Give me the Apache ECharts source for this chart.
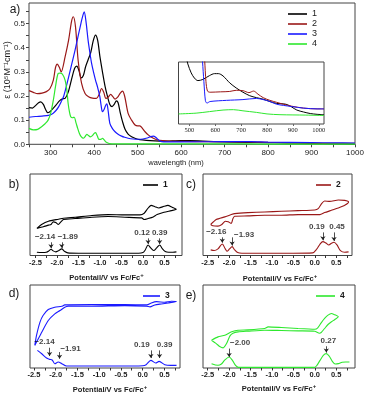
<!DOCTYPE html>
<html><head><meta charset="utf-8">
<script src="https://cdn.jsdelivr.net/npm/echarts@6/dist/echarts.min.js"></script>
<style>html,body{margin:0;padding:0;background:#fff}#c{width:366px;height:396px}</style>
</head><body><div id="c"></div>
<script>
// ---------- DATA ----------
// a) absorption spectra [wavelength nm, epsilon 10^5 M^-1 cm^-1]
const abs1 = [[250,0.152],[258,0.150],[265,0.160],[272,0.172],[277,0.176],[283,0.165],[288,0.145],[293,0.131],[298,0.135],[305,0.148],[312,0.162],[320,0.180],[327,0.188],[333,0.190],[340,0.215],[348,0.270],[355,0.315],[360,0.324],[365,0.305],[370,0.275],[375,0.285],[380,0.320],[386,0.350],[392,0.380],[398,0.430],[403,0.452],[408,0.430],[413,0.365],[419,0.300],[425,0.240],[431,0.195],[436,0.165],[441,0.156],[446,0.165],[451,0.180],[455,0.172],[460,0.130],[465,0.095],[471,0.062],[478,0.042],[486,0.031],[495,0.024],[505,0.019],[520,0.016],[540,0.014],[560,0.013],[580,0.014],[600,0.015],[620,0.015],[650,0.013],[700,0.010],[750,0.008],[800,0.007],[850,0.006],[870,0.006],[900,0.004],[950,0.003],[1000,0.002]];
const abs2 = [[250,0.222],[260,0.215],[270,0.210],[280,0.212],[290,0.218],[298,0.230],[306,0.266],[311,0.318],[315,0.332],[320,0.318],[324,0.300],[333,0.362],[341,0.430],[348,0.510],[352,0.528],[357,0.486],[363,0.348],[371,0.252],[379,0.210],[387,0.197],[396,0.191],[405,0.190],[411,0.205],[417,0.231],[422,0.215],[427,0.190],[432,0.195],[438,0.207],[443,0.197],[448,0.187],[454,0.195],[460,0.212],[465,0.220],[470,0.200],[478,0.128],[486,0.100],[494,0.080],[500,0.076],[505,0.076],[511,0.066],[517,0.052],[525,0.038],[536,0.025],[550,0.016],[575,0.013],[600,0.012],[650,0.011],[700,0.011],[750,0.010],[800,0.008],[850,0.007],[900,0.005],[950,0.004],[1000,0.004]];
const abs3 = [[250,0.112],[265,0.115],[280,0.117],[295,0.120],[305,0.128],[312,0.140],[318,0.155],[325,0.180],[330,0.200],[340,0.270],[348,0.330],[356,0.390],[362,0.440],[367,0.480],[372,0.520],[377,0.548],[381,0.510],[386,0.430],[390,0.380],[394,0.335],[399,0.295],[403,0.266],[408,0.235],[413,0.197],[416,0.160],[419,0.135],[423,0.145],[426,0.160],[429,0.167],[432,0.140],[436,0.087],[442,0.065],[448,0.052],[455,0.042],[463,0.034],[470,0.029],[478,0.025],[490,0.022],[501,0.021],[512,0.022],[522,0.026],[530,0.032],[536,0.034],[542,0.028],[550,0.015],[560,0.010],[600,0.010],[700,0.011],[760,0.011],[800,0.009],[900,0.007],[950,0.006],[1000,0.005]];
const abs4 = [[250,0.066],[260,0.060],[270,0.062],[279,0.073],[287,0.085],[294,0.100],[300,0.130],[306,0.183],[311,0.240],[317,0.293],[322,0.295],[327,0.290],[333,0.266],[337,0.225],[340,0.170],[343,0.135],[346,0.114],[350,0.110],[354,0.112],[358,0.090],[362,0.066],[366,0.045],[370,0.032],[375,0.025],[379,0.032],[383,0.041],[387,0.036],[391,0.031],[396,0.036],[400,0.045],[403,0.048],[407,0.035],[411,0.020],[415,0.020],[419,0.025],[423,0.018],[428,0.008],[435,0.003],[450,0.002],[500,0.002],[600,0.002],[700,0.002],[800,0.001],[1000,0.001]];
// inset (long-wavelength region, expanded)
const ins1 = [[470,0.023],[487,0.0175],[494,0.0155],[507,0.0132],[520,0.0118],[533,0.0112],[552,0.0115],[578,0.0125],[597,0.0130],[612,0.0130],[630,0.0124],[656,0.0106],[681,0.0093],[707,0.0082],[733,0.0073],[759,0.0068],[785,0.0064],[811,0.0058],[837,0.0053],[863,0.0052],[878,0.0050],[895,0.0044],[915,0.0036],[941,0.0031],[967,0.0027],[993,0.0025],[1020,0.0024]];
const ins2 = [[553,0.022],[559,0.0165],[564,0.011],[570,0.0085],[580,0.0082],[620,0.0083],[656,0.0084],[681,0.0087],[707,0.0086],[730,0.0081],[748,0.0085],[765,0.0077],[785,0.0068],[811,0.0061],[837,0.0056],[863,0.0051],[895,0.0046],[941,0.0041],[993,0.0039],[1020,0.0039]];
const ins3 = [[546,0.022],[551,0.0160],[556,0.011],[562,0.0060],[568,0.0054],[580,0.0058],[643,0.0061],[707,0.0063],[759,0.0066],[785,0.0063],[811,0.0058],[837,0.0051],[863,0.0048],[895,0.0045],[941,0.0041],[993,0.0039],[1020,0.0039]];
const ins4 = [[458,0.0026],[526,0.0028],[578,0.0032],[630,0.0036],[670,0.0037],[707,0.0034],[759,0.0030],[800,0.0026],[850,0.0024],[950,0.0023],[1020,0.0022]];
const absTicks = [300,400,500,600,700,800,900,1000];
const epsTicks = [0,0.1,0.2,0.3,0.4,0.5];
const insTicks = [500,600,700,800,900,1000];
const potTicks = [-2.5,-2,-1.5,-1,-0.5,0,0.5];

// b-e) CV loops and DPV traces [potential V vs Fc/Fc+, current (arb.)]
const cv1 = [[-2.47,82],[-2.36,94],[-2.20,104],[-1.97,110],[-1.85,113],[-1.58,116],[-1.19,121],[-0.81,124],[-0.42,123],[-0.07,123],[0.03,128],[0.11,142],[0.19,152],[0.28,148],[0.37,144],[0.49,149],[0.58,152],[0.68,146],[0.78,140],[0.66,136],[0.49,131],[0.33,124],[0.24,117],[0.12,112],[0.03,109],[-0.03,114],[-0.42,116],[-0.81,118],[-1.19,116],[-1.58,112],[-1.85,109],[-1.91,102],[-1.97,94],[-2.03,100],[-2.09,102],[-2.14,94],[-2.20,92],[-2.32,87],[-2.47,82]];
const dpv1 = [[-2.47,10],[-2.35,9],[-2.25,10],[-2.19,14],[-2.14,19],[-2.09,14],[-2.03,11],[-1.97,14],[-1.89,20],[-1.83,13],[-1.75,8],[-1.5,7],[-1.0,7],[-0.5,7],[-0.1,7],[0.0,9],[0.05,16],[0.12,32],[0.18,23],[0.25,15],[0.32,23],[0.39,32],[0.45,21],[0.52,12],[0.6,10],[0.7,10],[0.78,11]];
const cv2 = [[-2.43,94],[-2.30,109],[-2.10,117],[-1.95,124],[-1.87,127],[-1.56,130],[-1.17,132],[-0.78,134],[-0.39,136],[0.0,138],[0.08,142],[0.16,157],[0.23,165],[0.35,164],[0.55,168],[0.70,167],[0.79,162],[0.70,152],[0.55,144],[0.39,137],[0.23,130],[0.12,124],[-0.39,124],[-0.78,122],[-1.17,122],[-1.56,120],[-1.87,119],[-1.91,112],[-1.95,97],[-2.02,102],[-2.09,104],[-2.17,94],[-2.26,89],[-2.38,90],[-2.43,94]];
const dpv2 = [[-2.43,17],[-2.35,15],[-2.26,20],[-2.16,35],[-2.09,20],[-2.05,13],[-1.99,20],[-1.93,27],[-1.87,17],[-1.80,9],[-1.7,7],[-1.0,7],[-0.5,7],[-0.05,8],[0.05,20],[0.12,34],[0.19,42],[0.26,38],[0.33,32],[0.39,37],[0.45,40],[0.52,32],[0.6,15],[0.7,10],[0.79,11]];
const cv3 = [[-2.48,68],[-2.44,98],[-2.36,138],[-2.29,158],[-2.17,176],[-2.02,183],[-1.86,186],[-1.79,190],[-1.17,191],[-0.41,191],[0.10,190],[0.20,196],[0.32,200],[0.51,198],[0.66,201],[0.78,200],[0.59,196],[0.43,193],[0.28,190],[0.17,184],[0.09,186],[-0.41,188],[-1.17,186],[-1.71,186],[-1.79,183],[-1.90,173],[-2.02,163],[-2.17,143],[-2.32,108],[-2.42,83],[-2.48,68]];
const dpv3 = [[-2.42,53],[-2.32,43],[-2.21,30],[-2.14,26],[-2.08,24],[-2.02,13],[-1.94,18],[-1.86,13],[-1.75,6],[-1.5,6],[-1.0,6],[-0.5,6],[0.0,7],[0.08,10],[0.19,23],[0.30,15],[0.38,20],[0.51,10],[0.65,8],[0.78,8]];
const cv4 = [[-2.41,83],[-2.26,93],[-2.10,98],[-1.94,108],[-1.79,113],[-1.56,114],[-1.17,118],[-1.09,123],[-0.78,121],[-0.39,118],[0.0,116],[0.07,120],[0.15,135],[0.23,148],[0.31,158],[0.39,163],[0.45,160],[0.55,153],[0.47,145],[0.39,138],[0.31,130],[0.23,118],[0.15,106],[0.11,104],[0.0,110],[-0.39,111],[-0.78,112],[-1.17,113],[-1.56,110],[-1.79,108],[-1.91,104],[-1.98,96],[-2.06,73],[-2.14,60],[-2.22,64],[-2.30,73],[-2.41,83]];
const dpv4 = [[-2.41,13],[-2.26,8],[-2.18,12],[-2.10,24],[-2.00,33],[-1.92,22],[-1.85,8],[-1.78,2],[-1.0,2],[-0.5,2],[0.0,2],[0.05,8],[0.12,22],[0.20,38],[0.27,43],[0.34,35],[0.41,20],[0.48,12],[0.55,13],[0.64,17],[0.72,18],[0.81,18]];
// peak potentials labelled in each panel
const peaks1 = [-2.14,-1.89,0.12,0.39];
const peaks2 = [-2.16,-1.93,0.19,0.45];
const peaks3 = [-2.14,-1.91,0.19,0.39];
const peaks4 = [-2.00,0.27];
const names = ['1','2','3','4'];
const colors = ['#000000','#9a1818','#1a1aff','#2ee82e'];

// ---------- LAYOUT / STYLE ----------
const SANS = 'Liberation Sans, Arial, sans-serif';
const SERIF = 'Liberation Serif, Times New Roman, serif';
const TXT = '#1a1a1a';
const grids = [
  {left:29, top:3, width:326, height:141.3},
  {left:178.5, top:62, width:145.5, height:62, backgroundColor:'#fff'},
  {left:30, top:174, width:152, height:81.5},
  {left:203, top:174, width:149, height:81.5},
  {left:30, top:285, width:150, height:83},
  {left:203, top:285, width:152, height:83}
].map(g => Object.assign({show:true, borderColor:'#444', borderWidth:1, outerBoundsMode:'none', containLabel:false}, g));

const potX = [[-2.63,0.91],[-2.61,0.87],[-2.59,0.86],[-2.61,0.94]];
const curY = [247,247,250,248];
// annotation arrows: [top, bottom] in current units; label offsets in px
const annLayout = [
  {tops:[40,40,52,52], bots:[22,23,35,35], dx:[-6,6,-6,0], dy:[0,0,0,0]},
  {tops:[55,55,70,70], bots:[39,30,46,44], dx:[-6,12,-6,3], dy:[0,3,0,0]},
  {tops:[61,48,53,53], bots:[36,28,30,30], dx:[-5,11,-9,5], dy:[0,2,0,0]},
  {tops:[58,65], bots:[33,46], dx:[11,2], dy:[0,0]}
];

const xAxes = [], yAxes = [];
xAxes.push({type:'value', gridIndex:0, min:250, max:1000,
  axisLine:{show:false}, splitLine:{show:false},
  axisTick:{show:true, inside:false, length:3, customValues:[250,300,350,400,450,500,550,600,650,700,750,800,850,900,950,1000], lineStyle:{color:'#444'}},
  axisLabel:{customValues:absTicks, formatter:v=>String(v), fontSize:8, color:TXT, fontFamily:SANS, margin:4}});
yAxes.push({type:'value', gridIndex:0, min:0, max:0.585,
  axisLine:{show:false}, splitLine:{show:false},
  axisTick:{show:true, length:3, customValues:[0,0.05,0.1,0.15,0.2,0.25,0.3,0.35,0.4,0.45,0.5,0.55], lineStyle:{color:'#444'}},
  axisLabel:{customValues:epsTicks, formatter:v=>v.toFixed(1), fontSize:8, color:TXT, fontFamily:SANS, margin:4}});
xAxes.push({type:'value', gridIndex:1, min:458, max:1020,
  axisLine:{show:false}, splitLine:{show:false},
  axisTick:{show:true, length:2, customValues:insTicks, lineStyle:{color:'#666'}},
  axisLabel:{customValues:insTicks, formatter:v=>String(v), fontSize:6.5, color:TXT, fontFamily:SERIF, margin:3}});
yAxes.push({type:'value', gridIndex:1, min:0, max:0.016, axisLine:{show:false}, splitLine:{show:false}, axisTick:{show:false}, axisLabel:{show:false}});
for (let k=0;k<4;k++){
  xAxes.push({type:'value', gridIndex:k+2, min:potX[k][0], max:potX[k][1],
    axisLine:{show:false}, splitLine:{show:false},
    axisTick:{show:true, length:2.5, customValues:[-2.5,-2.25,-2,-1.75,-1.5,-1.25,-1,-0.75,-0.5,-0.25,0,0.25,0.5,0.75], lineStyle:{color:'#333'}},
    axisLabel:{customValues:potTicks, formatter:v=>v.toFixed(1), fontSize:7.5, fontWeight:'bold', color:TXT, fontFamily:SANS, margin:3}});
  yAxes.push({type:'value', gridIndex:k+2, min:0, max:curY[k], axisLine:{show:false}, splitLine:{show:false}, axisTick:{show:false}, axisLabel:{show:false}});
}

function line(name, data, color, idx, width, smooth){
  return {type:'line', name, data, xAxisIndex:idx, yAxisIndex:idx, symbol:'none', smooth:smooth,
    lineStyle:{color, width}, itemStyle:{color}, animation:false, silent:true, z:3};
}
const fmt = p => (p<0?'\u2212':'') + Math.abs(p).toFixed(2);
function ann(peaks, lay, idx){
  return {type:'scatter', xAxisIndex:idx, yAxisIndex:idx, symbolSize:1, itemStyle:{color:'transparent'}, silent:true, animation:false, z:5,
    data: peaks.map((p,i)=>({value:[p, lay.tops[i]], name:fmt(p), label:{offset:[lay.dx[i], lay.dy[i]]}})),
    label:{show:true, position:'top', distance:1, formatter:'{b}', fontSize:8, fontWeight:'bold', color:'#111', fontFamily:SANS},
    markLine:{silent:true, animation:false, symbol:['none','arrow'], symbolSize:4, label:{show:false},
      lineStyle:{color:'#222', width:0.8, type:'solid'},
      data: peaks.map((p,i)=>[{coord:[p, lay.tops[i]]},{coord:[p, lay.bots[i]]}])}};
}

const absSets = [abs1,abs2,abs3,abs4], insSets=[ins1,ins2,ins3,ins4];
const cvSets = [cv1,cv2,cv3,cv4], dpvSets=[dpv1,dpv2,dpv3,dpv4], peakSets=[peaks1,peaks2,peaks3,peaks4];
const series = [];
absSets.forEach((d,i)=>series.push(line(names[i], d, colors[i], 0, 1.2, 0.3)));
insSets.forEach((d,i)=>series.push(line(names[i], d, colors[i], 1, 1.0, 0.3)));
for (let k=0;k<4;k++){
  series.push(line(names[k], cvSets[k], colors[k], k+2, 1.1, 0.2));
  series.push(line(names[k], dpvSets[k], colors[k], k+2, 1.1, 0.3));
  series.push(ann(peakSets[k], annLayout[k], k+2));
}

const legPos = [[143,180,15],[316,180,15],[143,291,17],[316,291,19]];
const legends = [{data:names, left:288, top:9, orient:'vertical', icon:'rect', itemWidth:19, itemHeight:1.6, itemGap:0, padding:0, selectedMode:false,
  textStyle:{fontSize:9, lineHeight:10, color:TXT, fontFamily:SANS}}];
legPos.forEach((p,k)=>legends.push({data:[names[k]], left:p[0], top:p[1], orient:'vertical', icon:'rect', itemWidth:p[2], itemHeight:1.6, padding:0, selectedMode:false,
  textStyle:{fontSize:8.5, fontWeight:'bold', lineHeight:10, color:TXT, fontFamily:SANS}}));

function txt(x,y,text,font,extra){
  return {type:'text', x, y, silent:true, style:Object.assign({text, align:'center', verticalAlign:'middle', fill:TXT, font}, extra||{})};
}
function potText(x,y,word){
  return {type:'text', x, y, silent:true, style:{text:'{n|' + word + '/V vs Fc/Fc}{s|+}', align:'center', verticalAlign:'middle', fill:TXT,
    rich:{n:{fontSize:7.5, fontWeight:'bold', fontFamily:SANS, fill:TXT}, s:{fontSize:6, fontWeight:'bold', fontFamily:SANS, fill:TXT, padding:[0,0,5,0]}}}};
}
const graphics = [
  txt(15,9.5,'a)','12px '+SANS),
  txt(14,185,'b)','12px '+SANS),
  txt(191,185,'c)','12px '+SANS),
  txt(14,294,'d)','12px '+SANS),
  txt(191,296,'e)','12px '+SANS),
  txt(176,163,'wavelength (nm)','7.5px '+SANS),
  {type:'text', x:8, y:70, rotation:Math.PI/2, silent:true, style:{text:'\u03b5 (10\u2075M\u207b\u00b9cm\u207b\u00b9)', align:'center', verticalAlign:'middle', fill:TXT, font:'9px '+SANS}},
  potText(106.5,277.5,'Potentail'),
  potText(280,279,'Potentail'),
  potText(110,390,'Potential'),
  potText(279,389,'Potentail')
];

const chart = echarts.init(document.getElementById('c'), null, {renderer:'canvas', width:366, height:396});
chart.setOption({
  animation:false, backgroundColor:'#fff',
  grid:grids, xAxis:xAxes, yAxis:yAxes, legend:legends, series, graphic:graphics
});
</script></body></html>
